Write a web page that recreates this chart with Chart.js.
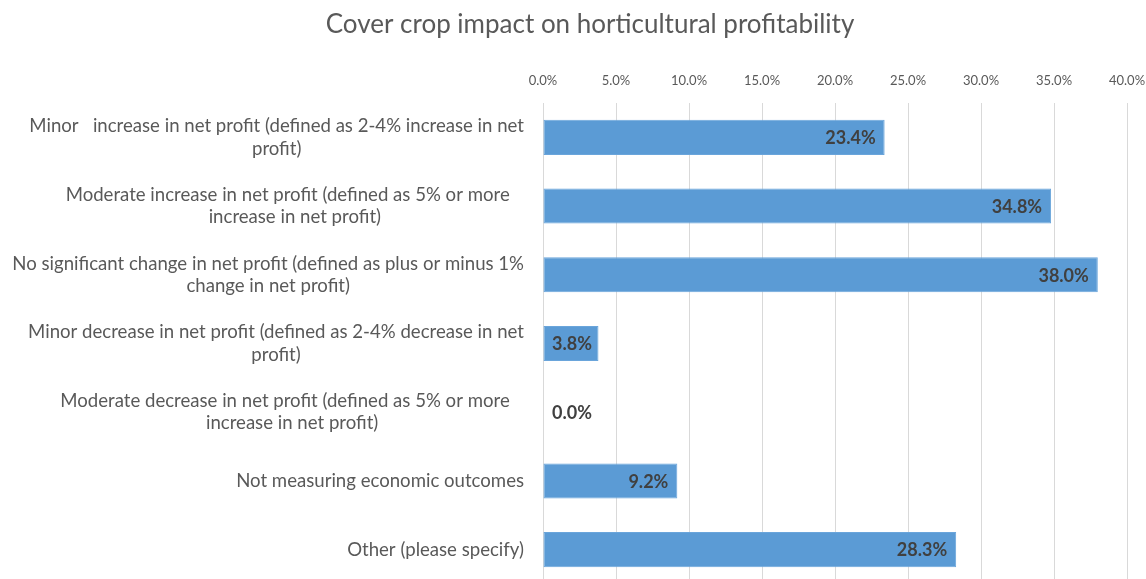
<!DOCTYPE html>
<html>
<head>
<meta charset="utf-8">
<script src="https://cdn.jsdelivr.net/npm/chart.js@4"></script>
<style>
  html, body { margin: 0; padding: 0; background: #fff; overflow: hidden; }
  canvas { display: block; }
</style>
</head>
<body>
<canvas id="chartProfit" width="1146" height="586"></canvas>
<script>
// answers, top to bottom as in the survey chart
// (trailing blanks on a wrapped line keep Excel's wrap box width)
const categories = [
  ['Minor   increase in net profit (defined as 2-4% increase in net', 'profit)'],
  ['Moderate increase in net profit (defined as 5% or more   ', 'increase in net profit)'],
  ['No significant change in net profit (defined as plus or minus 1%', 'change in net profit)'],
  ['Minor decrease in net profit (defined as 2-4% decrease in net', 'profit)'],
  ['Moderate decrease in net profit (defined as 5% or more   ', 'increase in net profit)'],
  'Not measuring economic outcomes',
  'Other (please specify)',
];
const shares = [23.4, 34.8, 38.0, 3.8, 0.0, 9.2, 28.3];
const axisMin = 0;
const axisMax = 40;
const axisStep = 5;
const chartTitle = 'Cover crop impact on horticultural profitability';

const FONT = 'Lato, "Open Sans", sans-serif';
const muted = '#595959';

// title sits a bit right of the canvas centre, like the Excel original
const titlePlugin = {
  id: 'titleText',
  afterDraw(chart) {
    const ctx = chart.ctx;
    ctx.save();
    ctx.font = '26px ' + FONT;
    ctx.fillStyle = muted;
    ctx.textAlign = 'center';
    ctx.textBaseline = 'middle';
    ctx.fillText(chartTitle, chart.width / 2 + 17, 25);
    ctx.restore();
  },
};

// Excel wraps category names: each block is right-aligned to the axis, lines centred inside it
const categoryLabels = {
  id: 'categoryLabels',
  afterDraw(chart) {
    const ctx = chart.ctx;
    const y = chart.scales.y;
    const right = y.right - 19;
    const lineH = 22.5;
    ctx.save();
    ctx.font = '18.6px ' + FONT;
    ctx.fillStyle = muted;
    ctx.textAlign = 'left';
    ctx.textBaseline = 'middle';
    categories.forEach((label, i) => {
      const lines = Array.isArray(label) ? label : [label];
      const w = Math.max(...lines.map((l) => ctx.measureText(l).width));
      const cx = right - w / 2;
      const cy = y.getPixelForTick(i);
      const top = cy - (lines.length - 1) * lineH / 2;
      lines.forEach((l, k) => {
        const lw = ctx.measureText(l).width;
        ctx.fillText(l, cx - lw / 2, top + k * lineH);
      });
    });
    ctx.restore();
  },
};

// Excel-style "inside end" value labels, pushed out past the axis when the bar is too short
const valueLabels = {
  id: 'valueLabels',
  afterDatasetsDraw(chart) {
    const ctx = chart.ctx;
    const meta = chart.getDatasetMeta(0);
    const base = chart.scales.x.getPixelForValue(0);
    ctx.save();
    ctx.font = 'bold 18px ' + FONT;
    ctx.fillStyle = '#404040';
    ctx.textBaseline = 'middle';
    ctx.textAlign = 'right';
    meta.data.forEach((bar, i) => {
      const txt = shares[i].toFixed(1) + '%';
      const w = ctx.measureText(txt).width;
      let right = bar.x - 9;
      if (right - w < base + 9) right = base + 9 + w;
      ctx.fillText(txt, right, bar.y + 1);
    });
    ctx.restore();
  },
};

function noEdgePadding(scale) {
  scale.paddingTop = 0;
  scale.paddingBottom = 0;
  scale.paddingLeft = 0;
  scale.paddingRight = 0;
}

new Chart(document.getElementById('chartProfit'), {
  type: 'bar',
  data: {
    labels: categories,
    datasets: [{
      data: shares,
      backgroundColor: '#5b9bd5',
      borderColor: '#6aa5db',
      borderWidth: 1,
      borderSkipped: false,
      categoryPercentage: 1,
      barPercentage: 0.51,
    }],
  },
  options: {
    indexAxis: 'y',
    responsive: false,
    animation: false,
    layout: { padding: { left: 0, right: 19, top: 40, bottom: 2 } },
    plugins: {
      legend: { display: false },
      tooltip: { enabled: false },
      title: { display: false },
    },
    scales: {
      x: {
        position: 'top',
        min: axisMin,
        max: axisMax,
        ticks: {
          stepSize: axisStep,
          color: muted,
          font: { family: FONT, size: 13 },
          padding: 14,
          callback: (v) => Number(v).toFixed(1) + '%',
        },
        grid: { color: '#d9d9d9', drawTicks: false },
        border: { display: false },
        afterFit(scale) {
          noEdgePadding(scale);
          scale.height = 63;
        },
      },
      y: {
        ticks: { display: false },
        grid: { display: false, drawTicks: false },
        border: { display: false },
        afterFit(scale) {
          noEdgePadding(scale);
          scale.width = 543;
        },
      },
    },
  },
  plugins: [valueLabels, categoryLabels, titlePlugin],
});
</script>
</body>
</html>
